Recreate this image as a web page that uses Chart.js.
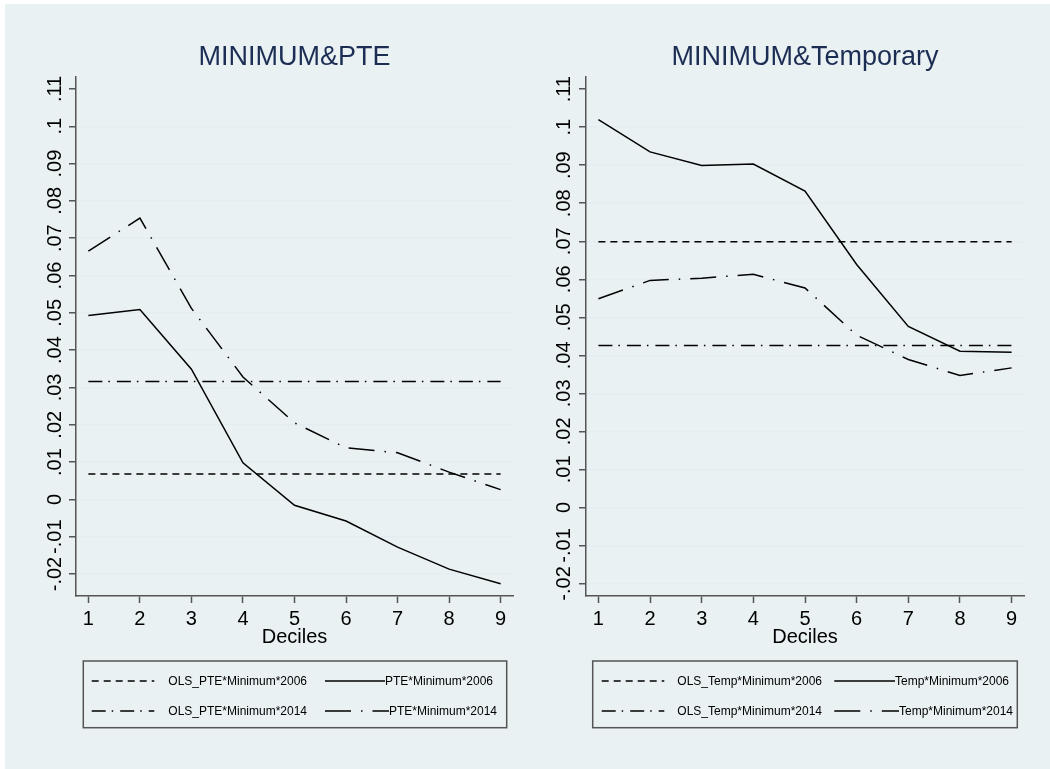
<!DOCTYPE html>
<html>
<head>
<meta charset="utf-8">
<script src="https://cdn.jsdelivr.net/npm/chart.js@4.4.0/dist/chart.umd.min.js"></script>
<style>
  body { margin: 0; background: #fff; overflow: hidden; }
  #bg { position: absolute; left: 5px; top: 4px; width: 1045px; height: 765px; background: #e9f1f3; }
  canvas { position: absolute; top: 4px; }
  #pte { left: 5px; }
  #temp { left: 528px; }
</style>
</head>
<body>
<div id="bg"></div>
<canvas id="pte" width="523" height="765"></canvas>
<canvas id="temp" width="522" height="765"></canvas>
<script>
const deciles = [1, 2, 3, 4, 5, 6, 7, 8, 9];
const xTickLabels = ['1', '2', '3', '4', '5', '6', '7', '8', '9'];
const yTickValues = [-0.02, -0.01, 0, 0.01, 0.02, 0.03, 0.04, 0.05, 0.06, 0.07, 0.08, 0.09, 0.1, 0.11];
const yTickLabels = ['-.02', '-.01', '0', '.01', '.02', '.03', '.04', '.05', '.06', '.07', '.08', '.09', '.1', '.11'];
const xTitle = 'Deciles';

// PTE panel
const olsPte2006 = [0.0068, 0.0068, 0.0068, 0.0068, 0.0068, 0.0068, 0.0068, 0.0068, 0.0068];
const pte2006 = [0.0493, 0.0509, 0.0349, 0.0098, -0.0016, -0.0058, -0.0128, -0.0187, -0.0226];
const olsPte2014 = [0.0316, 0.0316, 0.0316, 0.0316, 0.0316, 0.0316, 0.0316, 0.0316, 0.0316];
const pte2014 = [0.0665, 0.0754, 0.0512, 0.0328, 0.0205, 0.0138, 0.0125, 0.0073, 0.0026];

// Temporary panel
const olsTemp2006 = [0.0699, 0.0699, 0.0699, 0.0699, 0.0699, 0.0699, 0.0699, 0.0699, 0.0699];
const temp2006 = [0.1020, 0.0935, 0.0899, 0.0903, 0.0832, 0.0639, 0.0476, 0.0411, 0.0408];
const olsTemp2014 = [0.0426, 0.0426, 0.0426, 0.0426, 0.0426, 0.0426, 0.0426, 0.0426, 0.0426];
const temp2014 = [0.0549, 0.0597, 0.0603, 0.0613, 0.0577, 0.0453, 0.0389, 0.0347, 0.0367];

const FONT = '"Liberation Sans", Arial, sans-serif';
const AXIS = '#555';
const DASH = [7, 5];
const DASH_DOT = [14, 6, 1.5, 7];
const LONG_DASH_DOT = [26, 10, 1.5, 10];

function series(label, values, dash) {
  return {
    label: label,
    data: deciles.map((d, i) => ({ x: d, y: values[i] })),
    borderColor: '#000',
    borderWidth: 1.5,
    borderDash: dash,
    pointRadius: 0,
    fill: false,
    tension: 0
  };
}

// titles, rotated y labels, x labels and the boxed legend
const panelText = {
  id: 'panelText',
  afterDraw(chart, args, opts) {
    const { ctx, chartArea, scales: { x, y } } = chart;
    const mid = (chartArea.left + chartArea.right) / 2;
    ctx.save();
    ctx.textAlign = 'center';
    ctx.textBaseline = 'middle';

    ctx.fillStyle = '#1c2d54';
    ctx.font = '27px ' + FONT;
    ctx.fillText(opts.title, mid, opts.titleY);

    ctx.fillStyle = '#000';
    ctx.font = '20px ' + FONT;
    yTickValues.forEach((v, i) => {
      ctx.save();
      ctx.translate(opts.yLabelX, y.getPixelForValue(v));
      ctx.rotate(-Math.PI / 2);
      ctx.fillText(yTickLabels[i], 0, 1);
      ctx.restore();
    });
    deciles.forEach((d, i) => ctx.fillText(xTickLabels[i], x.getPixelForValue(d), opts.xLabelY));
    ctx.fillText(xTitle, mid, opts.xTitleY);

    const lg = opts.legend;
    ctx.strokeStyle = AXIS;
    ctx.lineWidth = 1.5;
    ctx.strokeRect(lg.box[0], lg.box[1], lg.box[2] - lg.box[0], lg.box[3] - lg.box[1]);
    ctx.textAlign = 'left';
    ctx.font = '12px ' + FONT;
    chart.data.datasets.forEach((ds, i) => {
      const yy = lg.rows[Math.floor(i / 2)];
      ctx.beginPath();
      ctx.setLineDash(ds.borderDash || []);
      ctx.strokeStyle = '#000';
      ctx.moveTo(lg.samples[i][0], yy);
      ctx.lineTo(lg.samples[i][1], yy);
      ctx.stroke();
      ctx.setLineDash([]);
      ctx.fillText(ds.label, lg.textX[i], yy + 1);
    });
    ctx.restore();
  }
};

function makeChart(id, cfg) {
  return new Chart(document.getElementById(id), {
    type: 'line',
    data: { datasets: cfg.datasets },
    options: {
      responsive: false,
      animation: false,
      events: [],
      layout: { padding: { top: cfg.top, right: cfg.right, left: 0, bottom: 0 } },
      plugins: {
        legend: { display: false },
        tooltip: { enabled: false },
        panelText: cfg.text
      },
      scales: {
        x: {
          type: 'linear',
          min: 0.76,
          max: 9.24,
          afterBuildTicks: s => { s.ticks = deciles.map(v => ({ value: v })); },
          afterFit: s => { s.height = cfg.xHeight; },
          ticks: { display: false },
          grid: { drawOnChartArea: false, tickColor: AXIS, tickLength: 7, tickWidth: 1.5 },
          border: { color: AXIS, width: 1.5 }
        },
        y: {
          type: 'linear',
          min: cfg.yMin,
          max: 0.1132,
          afterBuildTicks: s => { s.ticks = yTickValues.map(v => ({ value: v })); },
          afterFit: s => { s.width = cfg.yWidth; },
          ticks: { display: false },
          grid: {
            color: c => (c.tick && c.tick.value > 0.105 ? 'rgba(0,0,0,0)' : '#e4edf0'),
            lineWidth: 1.5,
            tickColor: AXIS,
            tickLength: 7,
            tickWidth: 1.5
          },
          border: { color: AXIS, width: 1.5 }
        }
      }
    },
    plugins: [panelText]
  });
}

makeChart('pte', {
  top: 73, right: 15, xHeight: 173, yWidth: 71, yMin: -0.0259,
  datasets: [
    series('OLS_PTE*Minimum*2006', olsPte2006, DASH),
    series('PTE*Minimum*2006', pte2006, []),
    series('OLS_PTE*Minimum*2014', olsPte2014, DASH_DOT),
    series('PTE*Minimum*2014', pte2014, LONG_DASH_DOT)
  ],
  text: {
    title: 'MINIMUM&PTE', titleY: 54, yLabelX: 49, xLabelY: 615, xTitleY: 633,
    legend: {
      box: [78.3, 657, 501.7, 723.7],
      rows: [677, 707],
      samples: [[86.7, 149.3], [320, 380], [86.7, 149.3], [320, 384]],
      textX: [163.3, 380, 163.3, 384]
    }
  }
});

makeChart('temp', {
  top: 73, right: 26, xHeight: 173, yWidth: 58, yMin: -0.0233,
  datasets: [
    series('OLS_Temp*Minimum*2006', olsTemp2006, DASH),
    series('Temp*Minimum*2006', temp2006, []),
    series('OLS_Temp*Minimum*2014', olsTemp2014, DASH_DOT),
    series('Temp*Minimum*2014', temp2014, LONG_DASH_DOT)
  ],
  text: {
    title: 'MINIMUM&Temporary', titleY: 54, yLabelX: 35.3, xLabelY: 615, xTitleY: 633,
    legend: {
      box: [64.7, 657, 489.3, 723.7],
      rows: [677, 707],
      samples: [[73.7, 136.3], [306.3, 367], [73.7, 136.3], [306.3, 371]],
      textX: [149.3, 367, 149.3, 371]
    }
  }
});
</script>
</body>
</html>
